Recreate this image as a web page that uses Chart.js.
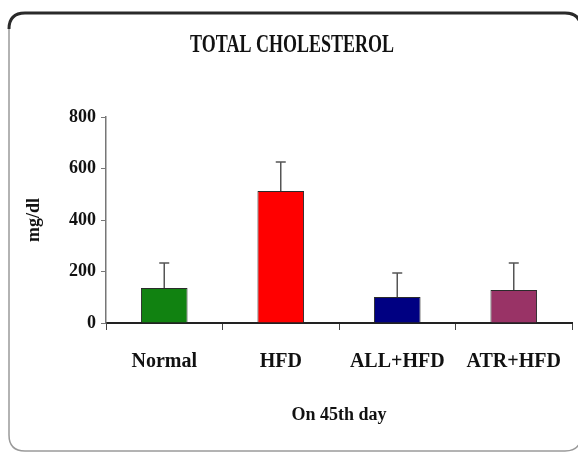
<!DOCTYPE html>
<html>
<head>
<meta charset="utf-8">
<script src="https://cdn.jsdelivr.net/npm/chart.js@4/dist/chart.umd.min.js"></script>
<style>
  html, body { margin: 0; padding: 0; background: #fff; }
  #wrap { width: 578px; height: 453px; position: relative; }
</style>
</head>
<body>
<div id="wrap"><canvas id="c" width="578" height="453"></canvas></div>
<script>
const categories = ['Normal', 'HFD', 'ALL+HFD', 'ATR+HFD'];
const cholesterol = [136, 513, 101, 128];
const errorUpper = [97, 112, 93, 105];
const barColors = ['#118211', '#ff0000', '#000082', '#993366'];
const yTicks = [0, 200, 400, 600, 800];
const chartTitle = 'TOTAL CHOLESTEROL';

const serif = '"Liberation Serif", "Times New Roman", serif';

const framePlugin = {
  id: 'frame',
  beforeDraw(chart) {
    const ctx = chart.ctx;
    ctx.save();
    ctx.fillStyle = '#fff';
    ctx.fillRect(0, 0, chart.width, chart.height);
    const l = 9, t = 13, r = 581, b = 451, rad = 16;
    ctx.strokeStyle = '#9a9a9a';
    ctx.lineWidth = 1.5;
    ctx.beginPath();
    ctx.moveTo(l, t + rad);
    ctx.lineTo(l, b - rad);
    ctx.quadraticCurveTo(l, b, l + rad, b);
    ctx.lineTo(r - rad, b);
    ctx.quadraticCurveTo(r, b, r, b - rad);
    ctx.lineTo(r, t + rad);
    ctx.stroke();
    ctx.strokeStyle = '#2a2a2a';
    ctx.lineWidth = 3;
    ctx.beginPath();
    ctx.moveTo(l, t + rad);
    ctx.quadraticCurveTo(l, t, l + rad, t);
    ctx.lineTo(r - rad, t);
    ctx.quadraticCurveTo(r, t, r, t + rad);
    ctx.stroke();
    ctx.fillStyle = '#111';
    ctx.font = 'bold 18px ' + serif;
    ctx.textAlign = 'center';
    ctx.textBaseline = 'alphabetic';
    ctx.translate(292, 52);
    ctx.scale(1, 1.4);
    ctx.fillText(chartTitle, 0, 0);
    ctx.restore();
  }
};

const errorBarPlugin = {
  id: 'errorBars',
  afterDatasetsDraw(chart) {
    const ctx = chart.ctx;
    const meta = chart.getDatasetMeta(0);
    const yScale = chart.scales.y;
    ctx.save();
    ctx.strokeStyle = '#555';
    ctx.lineWidth = 1.5;
    meta.data.forEach((bar, i) => {
      const v = cholesterol[i];
      const yTop = yScale.getPixelForValue(v + errorUpper[i]);
      ctx.beginPath();
      ctx.moveTo(bar.x, bar.y);
      ctx.lineTo(bar.x, yTop);
      ctx.moveTo(bar.x - 5, yTop);
      ctx.lineTo(bar.x + 5, yTop);
      ctx.stroke();
    });
    ctx.restore();
  }
};

new Chart(document.getElementById('c'), {
  type: 'bar',
  data: {
    labels: categories,
    datasets: [{
      data: cholesterol,
      backgroundColor: barColors,
      borderColor: '#2b2b2b',
      borderWidth: 1,
      barPercentage: 0.4,
      categoryPercentage: 1.0
    }]
  },
  options: {
    responsive: false,
    animation: false,
    devicePixelRatio: 1,
    layout: { padding: { left: 22, right: 6, top: 117, bottom: 0 } },
    plugins: {
      legend: { display: false },
      tooltip: { enabled: false },
      title: { display: false }
    },
    scales: {
      x: {
        grid: {
          display: true,
          drawOnChartArea: false,
          drawTicks: true,
          tickLength: 7,
          color: '#444',
          offset: true
        },
        border: { display: true, color: '#222', width: 2 },
        ticks: {
          color: '#111',
          padding: 20,
          font: { family: serif, size: 20, weight: 'bold' }
        },
        title: {
          display: true,
          text: 'On 45th day',
          color: '#111',
          font: { family: serif, size: 18, weight: 'bold' },
          padding: { top: 0, bottom: 27 }
        },
        afterFit(scale) {
          scale.height = 130;
          scale.paddingLeft = 0;
          scale.paddingRight = 0;
        }
      },
      y: {
        min: 0,
        max: 800,
        afterBuildTicks(scale) { scale.ticks = yTicks.map(v => ({ value: v })); },
        grid: {
          display: true,
          drawOnChartArea: false,
          drawTicks: true,
          tickLength: 5,
          color: '#777'
        },
        border: { display: true, color: '#777', width: 1.5 },
        ticks: {
          color: '#111',
          padding: 5,
          font: { family: serif, size: 18, weight: 'bold' }
        },
        title: {
          display: true,
          text: 'mg/dl',
          color: '#111',
          font: { family: serif, size: 18, weight: 'bold' },
          padding: { top: 2, bottom: 0 }
        },
        afterFit(scale) { scale.width = 84; }
      }
    }
  },
  plugins: [framePlugin, errorBarPlugin]
});
</script>
</body>
</html>
